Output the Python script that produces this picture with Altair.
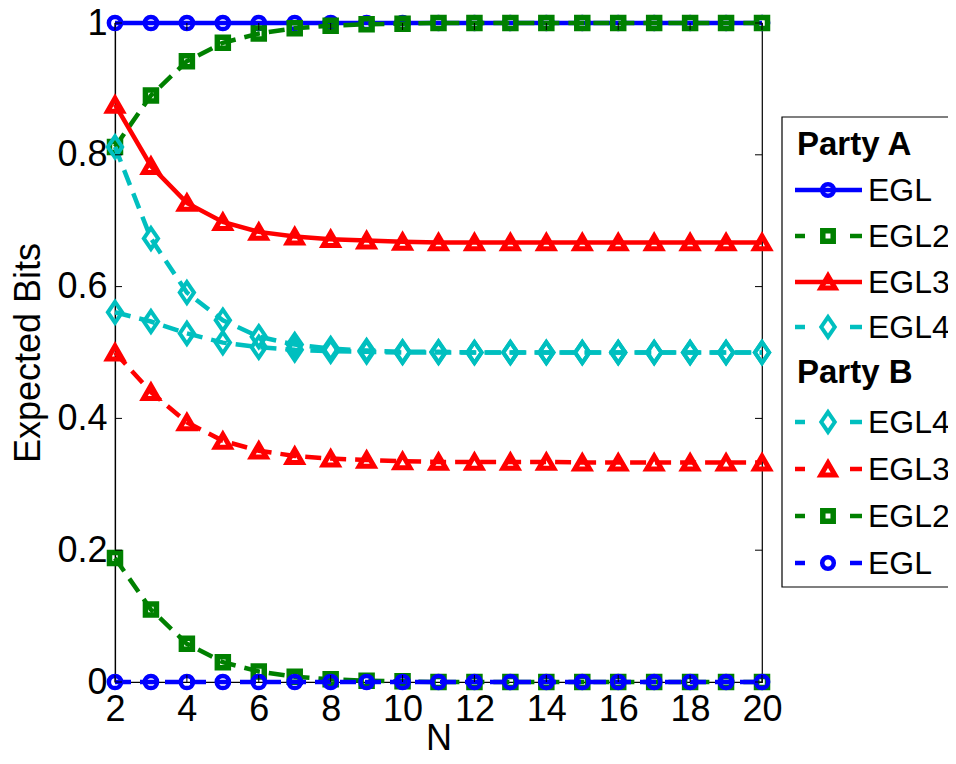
import altair as alt
import pandas as pd

# ---- data -------------------------------------------------------------
N = [2, 3, 4, 5, 6, 7, 8, 9, 10, 11, 12, 13, 14, 15, 16, 17, 18, 19, 20]

a_egl = [1.0, 1.0, 1.0, 1.0, 1.0, 1.0, 1.0, 1.0, 1.0, 1.0,
         1.0, 1.0, 1.0, 1.0, 1.0, 1.0, 1.0, 1.0, 1.0]
a_egl2 = [0.812, 0.890, 0.942, 0.970, 0.984, 0.992, 0.996, 0.998, 0.999, 1.0,
          1.0, 1.0, 1.0, 1.0, 1.0, 1.0, 1.0, 1.0, 1.0]
a_egl3 = [0.876, 0.783, 0.727, 0.698, 0.683, 0.676, 0.672, 0.670, 0.668, 0.667,
          0.667, 0.667, 0.667, 0.667, 0.667, 0.667, 0.667, 0.667, 0.667]
a_egl4 = [0.812, 0.673, 0.591, 0.549, 0.524, 0.512, 0.506, 0.503, 0.501, 0.501,
          0.500, 0.500, 0.500, 0.500, 0.500, 0.500, 0.500, 0.500, 0.500]

b_egl4 = [0.561, 0.547, 0.529, 0.515, 0.508, 0.504, 0.502, 0.501, 0.500, 0.500,
          0.500, 0.500, 0.500, 0.500, 0.500, 0.500, 0.500, 0.500, 0.500]
b_egl3 = [0.500, 0.440, 0.394, 0.366, 0.351, 0.343, 0.339, 0.337, 0.335, 0.334,
          0.334, 0.334, 0.334, 0.333, 0.333, 0.333, 0.333, 0.333, 0.333]
b_egl2 = [0.188, 0.110, 0.058, 0.030, 0.016, 0.008, 0.004, 0.002, 0.001, 0.0,
          0.0, 0.0, 0.0, 0.0, 0.0, 0.0, 0.0, 0.0, 0.0]
b_egl = [0.0, 0.0, 0.0, 0.0, 0.0, 0.0, 0.0, 0.0, 0.0, 0.0,
         0.0, 0.0, 0.0, 0.0, 0.0, 0.0, 0.0, 0.0, 0.0]

y_ticks = [0, 0.2, 0.4, 0.6, 0.8, 1]
x_ticks = [2, 4, 6, 8, 10, 12, 14, 16, 18, 20]

group_titles = ["Party A", "Party B"]
legend_a = ["EGL", "EGL2", "EGL3", "EGL4"]
legend_b = ["EGL4", "EGL3", "EGL2", "EGL"]

# ---- styles -----------------------------------------------------------
BLUE, GREEN, RED, CYAN = "#0000FF", "#008000", "#FF0000", "#00BFBF"
DASH = [16, 9]
DIAMOND = "M0,-1L0.68,0L0,1L-0.68,0Z"
FONT = "Liberation Sans"

# (values, color, dashed, shape, size, marker stroke)
series = [
    (a_egl, BLUE, False, "circle", 150, 4.5),
    (a_egl2, GREEN, True, "square", 121, 5.5),
    (a_egl3, RED, False, "triangle-up", 220, 5),
    (a_egl4, CYAN, True, DIAMOND, 440, 4),
    (b_egl4, CYAN, True, DIAMOND, 440, 4),
    (b_egl3, RED, True, "triangle-up", 220, 5),
    (b_egl2, GREEN, True, "square", 121, 5.5),
    (b_egl, BLUE, True, "circle", 150, 4.5),
]

W, H = 647, 659

xscale = alt.Scale(domain=[2, 20], nice=False, zero=False)
yscale = alt.Scale(domain=[0, 1], nice=False, zero=False)
common = dict(labelFont=FONT, labelFontSize=36, labelColor="black",
              titleFont=FONT, titleFontSize=36, titleFontWeight="normal",
              titleColor="black", domainColor="black", domainWidth=1.2,
              ticks=False, tickSize=0, labelFlush=False, grid=False)
xaxis = alt.Axis(values=x_ticks, format="d", title="N",
                 labelPadding=10, titleBaseline="alphabetic", titleY=67, **common)
yaxis = alt.Axis(values=y_ticks, format="~g", title="Expected Bits",
                 labelPadding=8, titlePadding=9, **common)


def X(field):
    return alt.X(field, type="quantitative", scale=xscale, axis=xaxis)


def Y(field):
    return alt.Y(field, type="quantitative", scale=yscale, axis=yaxis)


layers = []
for vals, color, dashed, shape, size, sw in series:
    df = pd.DataFrame({"N": N, "v": vals})
    lkw = dict(color=color, strokeWidth=4.5)
    if dashed:
        lkw["strokeDash"] = DASH
    layers.append(alt.Chart(df).mark_line(**lkw).encode(x=X("N"), y=Y("v")))
    layers.append(
        alt.Chart(df)
        .mark_point(shape=shape, size=size, filled=False, color=color,
                    strokeWidth=sw, opacity=1)
        .encode(x=X("N"), y=Y("v"))
    )

# inward ticks (MATLAB style)
ydf = pd.DataFrame({"t": y_ticks})
xdf = pd.DataFrame({"t": x_ticks})
TL = 7
layers.append(alt.Chart(ydf).mark_rule(color="black", strokeWidth=1).encode(
    y=Y("t"), x=alt.value(0), x2=alt.value(TL)))
layers.append(alt.Chart(ydf).mark_rule(color="black", strokeWidth=1).encode(
    y=Y("t"), x=alt.value(W - TL), x2=alt.value(W)))
layers.append(alt.Chart(xdf).mark_rule(color="black", strokeWidth=1).encode(
    x=X("t"), y=alt.value(H - TL), y2=alt.value(H)))
layers.append(alt.Chart(xdf).mark_rule(color="black", strokeWidth=1).encode(
    x=X("t"), y=alt.value(0), y2=alt.value(TL)))

# ---- manual legend ----------------------------------------------------
one = alt.Data(values=[{"k": 0}])
BOX_L, BOX_T, BOX_B = 667, 94, 564
LINE_L, LINE_R, MARK_X, TEXT_X, HEAD_X = 680, 747, 713, 753, 682

layers.append(alt.Chart(one).mark_rect(fill="white", stroke="black", strokeWidth=1.2).encode(
    x=alt.value(BOX_L), x2=alt.value(BOX_L + 300), y=alt.value(BOX_T), y2=alt.value(BOX_B)))

head_y = [122, 350]
rows_y = [167, 213, 259, 304, 399, 446, 493, 540]
labels = legend_a + legend_b

for t, yy in zip(group_titles, head_y):
    layers.append(alt.Chart(one).mark_text(
        align="left", baseline="middle", font=FONT, fontSize=33, fontWeight="bold",
        color="black").encode(x=alt.value(HEAD_X), y=alt.value(yy), text=alt.value(t)))

for (vals, color, dashed, shape, size, sw), yy, lab in zip(series, rows_y, labels):
    if dashed:
        for a, b in [(LINE_L, LINE_L + 10), (LINE_R - 12, LINE_R)]:
            layers.append(alt.Chart(one).mark_rule(color=color, strokeWidth=4.5).encode(
                x=alt.value(a), x2=alt.value(b), y=alt.value(yy)))
    else:
        layers.append(alt.Chart(one).mark_rule(color=color, strokeWidth=4.5).encode(
            x=alt.value(LINE_L), x2=alt.value(LINE_R), y=alt.value(yy)))
    layers.append(alt.Chart(one).mark_point(
        shape=shape, size=size * 0.9, filled=False, color=color, strokeWidth=sw,
        opacity=1).encode(x=alt.value(MARK_X), y=alt.value(yy)))
    layers.append(alt.Chart(one).mark_text(
        align="left", baseline="middle", font=FONT, fontSize=32, color="black").encode(
        x=alt.value(TEXT_X), y=alt.value(yy + 1), text=alt.value(lab)))

chart = (
    alt.layer(*layers)
    .properties(width=W, height=H,
                padding={"left": 107, "top": 15, "right": 186, "bottom": 69},
                autosize=alt.AutoSizeParams(type="none"),
                background="white")
    .configure_view(stroke="black", strokeWidth=1.2)
)

chart.save("out.html", embed_options={"renderer": "svg", "actions": False})
